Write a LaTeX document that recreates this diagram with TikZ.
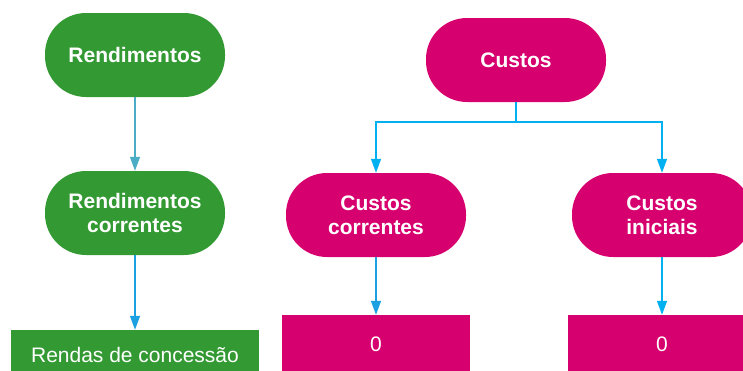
\documentclass[tikz,border=0pt]{standalone}
\usepackage{fontspec}
\setmainfont{Liberation Sans}
\usetikzlibrary{arrows.meta}
\definecolor{gr}{HTML}{339933}
\definecolor{mg}{HTML}{D6006F}
\definecolor{ln1}{HTML}{4BACC6}
\definecolor{ln2}{HTML}{1BA1E2}
\definecolor{ln3}{HTML}{00B0F0}
\tikzset{
  pill/.style={rectangle, rounded corners=41pt, minimum width=180pt, minimum height=84pt,
    inner sep=0pt, text=white, align=center, font=\fontsize{21}{24}\selectfont\bfseries},
  gpill/.style={pill, fill=gr},
  mpill/.style={pill, fill=mg},
  box/.style={rectangle, inner sep=0pt, text=white, align=center,
    font=\fontsize{21}{24}\selectfont},
  conn/.style={line width=1.4pt, -{Triangle[width=10pt,length=14pt]}},
}
\begin{document}
\begin{tikzpicture}[x=1pt,y=-1pt]
\useasboundingbox (0,0) rectangle (743,370);
\clip (0,0) rectangle (743,370);
\node[gpill] (rend) at (135,55) {Rendimentos};
\node[gpill] (rendc) at (135,213) {Rendimentos\\correntes};
\node[box, fill=gr, minimum width=248pt, minimum height=50pt] (rendas) at (135,355) {Rendas de concessão};
\node[mpill] (cust) at (516,60) {Custos};
\node[mpill] (custc) at (376,215) {Custos\\correntes};
\node[mpill] (custi) at (662,215) {Custos\\iniciais};
\node[box, fill=mg, minimum width=188pt, minimum height=59pt] (z1) at (376,344.5) {0};
\node[box, fill=mg, minimum width=188pt, minimum height=59pt] (z2) at (662,344.5) {0};
\coordinate (br) at (516,122);
\draw[conn, ln1] (rend.south) -- (rendc.north);
\draw[conn, ln2] (rendc.south) -- (rendas.north);
\draw[line width=1.4pt, ln3] (cust.south) -- (br);
\draw[conn, ln3] (br) -| (custc.north);
\draw[conn, ln3] (br) -| (custi.north);
\draw[conn, ln2] (custc.south) -- (z1.north);
\draw[conn, ln3] (custi.south) -- (z2.north);
\end{tikzpicture}
\end{document}
